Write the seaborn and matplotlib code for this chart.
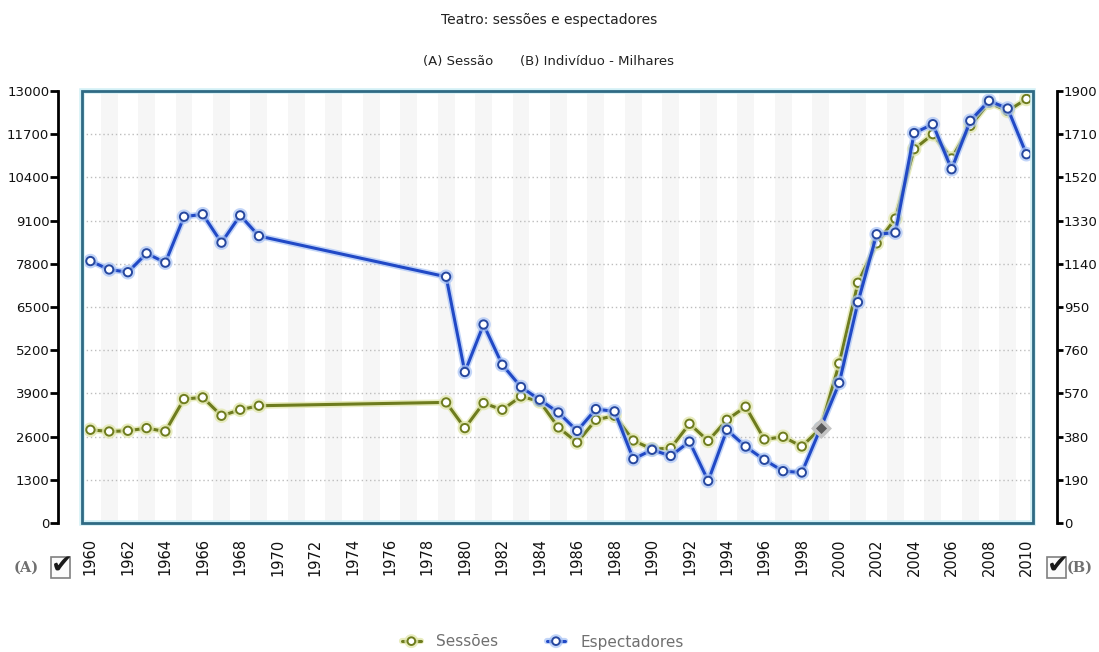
import matplotlib
matplotlib.use("Agg")
import matplotlib.pyplot as plt
import matplotlib.patheffects as pe
from matplotlib.patches import Rectangle
from matplotlib.lines import Line2D
import seaborn as sns

# Theatre: sessions (A) and spectators in thousands (B), 1960-1969 and 1979-2010
years = [1960, 1961, 1962, 1963, 1964, 1965, 1966, 1967, 1968, 1969,
         1979, 1980, 1981, 1982, 1983, 1984, 1985, 1986, 1987, 1988,
         1989, 1990, 1991, 1992, 1993, 1994, 1995, 1996, 1997, 1998,
         1999, 2000, 2001, 2002, 2003, 2004, 2005, 2006, 2007, 2008,
         2009, 2010]
sessoes = [2805, 2754, 2775, 2855, 2754, 3730, 3780, 3227, 3408, 3529,
           3629, 2855, 3609, 3408, 3810, 3659, 2875, 2422, 3106, 3227,
           2483, 2222, 2252, 2986, 2470, 3106, 3500, 2515, 2595, 2302,
           2850, 4800, 7230, 8415, 9160, 11250, 11700, 10970, 11950, 12650,
           12400, 12760]
espectadores = [1152, 1115, 1103, 1186, 1145, 1347, 1358, 1233, 1353, 1262,
                1083, 664, 873, 696, 598, 542, 486, 405, 501, 491,
                281, 322, 295, 358, 185, 410, 336, 278, 228, 222,
                416, 616, 971, 1270, 1277, 1715, 1754, 1556, 1769, 1857,
                1823, 1622]

left_ticks = [0, 1300, 2600, 3900, 5200, 6500, 7800, 9100, 10400, 11700, 13000]
right_ticks = [0, 190, 380, 570, 760, 950, 1140, 1330, 1520, 1710, 1900]
year_ticks = list(range(1960, 2011, 2))
highlight_year = 1999

title = "Teatro: sessões e espectadores"
sub_a = "(A) Sessão"
sub_b = "(B) Indivíduo - Milhares"
label_a = "Sessões"
label_b = "Espectadores"

GREEN = "#6e7c1e"
BLUE = "#2149c6"
FRAME = "#2f6a84"

sns.set_style("white")
plt.rcParams["font.family"] = ["DejaVu Sans"]

W, H = 1099, 652
DPI = 100
fig = plt.figure(figsize=(W / DPI, H / DPI), dpi=DPI)


def fx(px):
    return px / W


def fy(py):
    return 1 - py / H


def pts(px):
    return px * 72 / DPI


ax = fig.add_axes([fx(82), fy(523), fx(1033) - fx(82), fy(91) - fy(523)])
ax2 = ax.twinx()

ax.set_xlim(1959.55, 2010.35)
ax.set_ylim(0, 13000)
ax2.set_ylim(0, 1900)

# alternating year bands
for yr in range(1961, 2011, 2):
    ax.axvspan(yr - 0.45, yr + 0.45, color="#f6f6f6", lw=0, zorder=0)

# dotted horizontal grid
for t in left_ticks[1:-1]:
    ax.axhline(t, color="#bdbdbd", lw=1.0, ls=(0, (1, 2)), zorder=1)

glow_g = [pe.Stroke(linewidth=4.5, foreground="#e3e8b0", alpha=0.8), pe.Normal()]
glow_b = [pe.Stroke(linewidth=4.5, foreground="#a9c4f6", alpha=0.7), pe.Normal()]

sns.lineplot(x=years, y=sessoes, ax=ax, color=GREEN, lw=2.2, marker="o",
             markersize=6, markerfacecolor="white", markeredgecolor=GREEN,
             markeredgewidth=1.4, zorder=3, path_effects=glow_g)
sns.lineplot(x=years, y=espectadores, ax=ax2, color=BLUE, lw=2.2, marker="o",
             markersize=6, markerfacecolor="white", markeredgecolor="#26479f",
             markeredgewidth=1.4, zorder=3, path_effects=glow_b)

# highlighted point
hi = years.index(highlight_year)
ax2.plot([highlight_year], [espectadores[hi]], marker="D", markersize=8,
         color="#5a5a5a", markeredgecolor="#c4c4c4", markeredgewidth=2.5,
         ls="none", zorder=5)

# axes styling
for a in (ax, ax2):
    for s in a.spines.values():
        s.set_visible(False)
ax2.patch.set_visible(False)

ax.spines["left"].set_visible(True)
ax.spines["left"].set_position(("outward", pts(24)))
ax.spines["left"].set_linewidth(2)
ax.spines["left"].set_color("black")
ax.set_yticks(left_ticks)
ax.set_yticklabels([str(t) for t in left_ticks])
ax.tick_params(axis="y", direction="out", length=pts(8), width=2, color="black",
               pad=0.5, labelsize=9.5, labelcolor="#111111")

ax2.spines["right"].set_visible(True)
ax2.spines["right"].set_position(("outward", pts(24)))
ax2.spines["right"].set_linewidth(2)
ax2.spines["right"].set_color("black")
ax2.set_yticks(right_ticks)
ax2.set_yticklabels([str(t) for t in right_ticks])
ax2.tick_params(axis="y", direction="out", length=pts(6), width=2, color="black",
                pad=0.5, labelsize=9.5, labelcolor="#111111")

ax.set_xticks(year_ticks)
ax.set_xticklabels([str(y) for y in year_ticks], rotation=90)
ax.tick_params(axis="x", length=0, pad=11, labelsize=10.5, labelcolor="#111111")
ax.set_xlabel("")
ax.set_ylabel("")
ax2.set_ylabel("")

# plot frame
ax2.add_patch(Rectangle((0, 0), 1, 1, transform=ax2.transAxes, fill=False,
                        edgecolor="#d3f0f6", lw=4, zorder=6, clip_on=False))
ax2.add_patch(Rectangle((0, 0), 1, 1, transform=ax2.transAxes, fill=False,
                        edgecolor=FRAME, lw=2, zorder=7, clip_on=False))

# titles
fig.text(0.5, fy(20), title, ha="center", va="center", fontsize=10, color="#222222")
fig.text(fx(423), fy(61), sub_a, ha="left", va="center", fontsize=9.5, color="#222222")
fig.text(fx(520), fy(61), sub_b, ha="left", va="center", fontsize=9.5, color="#222222")

# selector boxes
fig.text(fx(26), fy(568), "(A)", ha="center", va="center", fontsize=10.5,
         family="DejaVu Serif", weight="bold", color="#707070")
fig.text(fx(1080), fy(568), "(B)", ha="center", va="center", fontsize=10.5,
         family="DejaVu Serif", weight="bold", color="#707070")
for x0 in (51, 1047):
    fig.add_artist(Rectangle((fx(x0), fy(578)), fx(19), fy(557) - fy(578),
                             transform=fig.transFigure, fill=True,
                             facecolor="#fbfbfb", edgecolor="#808080", lw=1.2))
    fig.text(fx(x0 + 11), fy(567), "\u2714", ha="center", va="center",
             fontsize=19, color="#1a1a1a")

# legend
handles = [
    Line2D([], [], color=GREEN, lw=2.2, marker="o", markersize=5.5,
           markerfacecolor="white", markeredgecolor=GREEN, markeredgewidth=1.4,
           path_effects=glow_g),
    Line2D([], [], color=BLUE, lw=2.2, marker="o", markersize=5.5,
           markerfacecolor="white", markeredgecolor="#26479f", markeredgewidth=1.4,
           path_effects=glow_b),
]
fig.legend(handles, [label_a, label_b], loc="center", bbox_to_anchor=(fx(543), fy(642)),
           ncol=2, frameon=False, fontsize=11, labelcolor="#707070",
           handlelength=1.2, handletextpad=1.0, columnspacing=3.2)

fig.savefig("out.png", dpi=DPI)
